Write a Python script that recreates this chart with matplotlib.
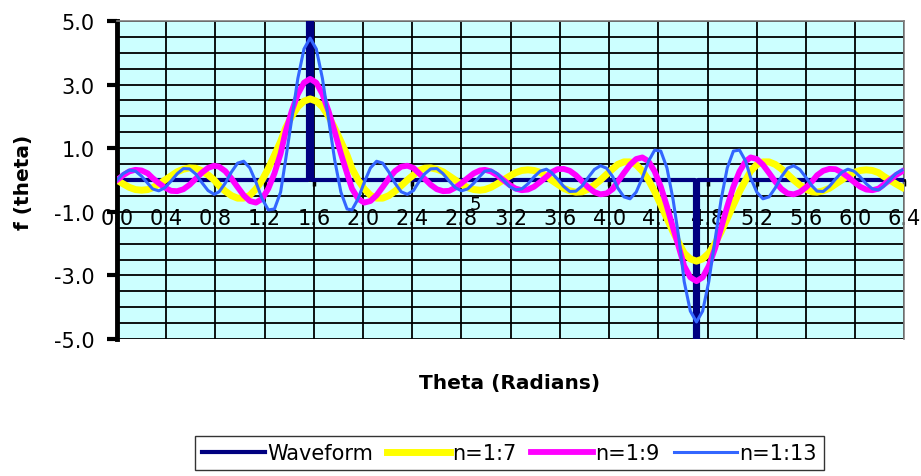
import numpy as np
import matplotlib
matplotlib.use("Agg")
import matplotlib.pyplot as plt
from matplotlib.lines import Line2D

plt.rcParams['font.family'] = ['DejaVu Sans']

# Data (theta in radians)
theta = [
    0.00, 0.05, 0.10, 0.15, 0.20, 0.25, 0.29, 0.34, 0.39, 0.44,
    0.49, 0.54, 0.59, 0.64, 0.69, 0.74, 0.79, 0.83, 0.88, 0.93,
    0.98, 1.03, 1.08, 1.13, 1.18, 1.23, 1.28, 1.33, 1.37, 1.42,
    1.47, 1.52, 1.57, 1.62, 1.67, 1.72, 1.77, 1.82, 1.87, 1.91,
    1.96, 2.01, 2.06, 2.11, 2.16, 2.21, 2.26, 2.31, 2.36, 2.41,
    2.45, 2.50, 2.55, 2.60, 2.65, 2.70, 2.75, 2.80, 2.85, 2.90,
    2.95, 2.99, 3.04, 3.09, 3.14, 3.19, 3.24, 3.29, 3.34, 3.39,
    3.44, 3.49, 3.53, 3.58, 3.63, 3.68, 3.73, 3.78, 3.83, 3.88,
    3.93, 3.98, 4.03, 4.07, 4.12, 4.17, 4.22, 4.27, 4.32, 4.37,
    4.42, 4.47, 4.52, 4.57, 4.61, 4.66, 4.71, 4.76, 4.81, 4.86,
    4.91, 4.96, 5.01, 5.06, 5.11, 5.15, 5.20, 5.25, 5.30, 5.35,
    5.40, 5.45, 5.50, 5.55, 5.60, 5.65, 5.69, 5.74, 5.79, 5.84,
    5.89, 5.94, 5.99, 6.04, 6.09, 6.14, 6.19, 6.23, 6.28, 6.33,
    6.38,
]

n7 = [
    0.00, -0.12, -0.23, -0.30, -0.32, -0.30, -0.24, -0.13, 0.00, 0.13,
    0.26, 0.34, 0.38, 0.37, 0.29, 0.16, 0.00, -0.18, -0.35, -0.49,
    -0.57, -0.57, -0.48, -0.28, 0.00, 0.36, 0.78, 1.21, 1.63, 2.00,
    2.30, 2.48, 2.55,
    2.48, 2.30, 2.00, 1.63, 1.21, 0.78, 0.36, 0.00, -0.28, -0.48,
    -0.57, -0.57, -0.49, -0.35, -0.18, 0.00, 0.16, 0.29, 0.37, 0.38,
    0.34, 0.26, 0.13, 0.00, -0.13, -0.24, -0.30, -0.32, -0.30, -0.23,
    -0.12, 0.00,
    0.12, 0.23, 0.30, 0.32, 0.30, 0.24, 0.13, 0.00, -0.13, -0.26,
    -0.34, -0.38, -0.37, -0.29, -0.16, 0.00, 0.18, 0.35, 0.49, 0.57,
    0.57, 0.48, 0.28, 0.00, -0.36, -0.78, -1.21, -1.63, -2.00, -2.30,
    -2.48, -2.55,
    -2.48, -2.30, -2.00, -1.63, -1.21, -0.78, -0.36, 0.00, 0.28, 0.48,
    0.57, 0.57, 0.49, 0.35, 0.18, 0.00, -0.16, -0.29, -0.37, -0.38,
    -0.34, -0.26, -0.13, 0.00, 0.13, 0.24, 0.30, 0.32, 0.30, 0.23,
    0.12, 0.00,
    -0.12, -0.23,
]

n9 = [
    0.00, 0.15, 0.27, 0.32, 0.30, 0.21, 0.06, -0.10, -0.24, -0.34,
    -0.35, -0.29, -0.15, 0.04, 0.23, 0.38, 0.45, 0.42, 0.28, 0.05,
    -0.22, -0.48, -0.66, -0.71, -0.59, -0.27, 0.21, 0.83, 1.51, 2.16,
    2.70, 3.06, 3.18,
    3.06, 2.70, 2.16, 1.51, 0.83, 0.21, -0.27, -0.59, -0.71, -0.66,
    -0.48, -0.22, 0.05, 0.28, 0.42, 0.45, 0.38, 0.23, 0.04, -0.15,
    -0.29, -0.35, -0.34, -0.24, -0.10, 0.06, 0.21, 0.30, 0.32, 0.27,
    0.15, 0.00,
    -0.15, -0.27, -0.32, -0.30, -0.21, -0.06, 0.10, 0.24, 0.34, 0.35,
    0.29, 0.15, -0.04, -0.23, -0.38, -0.45, -0.42, -0.28, -0.05, 0.22,
    0.48, 0.66, 0.71, 0.59, 0.27, -0.21, -0.83, -1.51, -2.16, -2.70,
    -3.06, -3.18,
    -3.06, -2.70, -2.16, -1.51, -0.83, -0.21, 0.27, 0.59, 0.71, 0.66,
    0.48, 0.22, -0.05, -0.28, -0.42, -0.45, -0.38, -0.23, -0.04, 0.15,
    0.29, 0.35, 0.34, 0.24, 0.10, -0.06, -0.21, -0.30, -0.32, -0.27,
    -0.15, 0.00,
    0.15, 0.27,
]

n13 = [
    0.00, 0.20, 0.31, 0.28, 0.12, -0.10, -0.28, -0.34, -0.24, -0.03,
    0.20, 0.36, 0.35, 0.19, -0.08, -0.33, -0.45, -0.37, -0.10, 0.25,
    0.53, 0.59, 0.38, -0.07, -0.59, -0.94, -0.91, -0.38, 0.62, 1.91,
    3.19, 4.12, 4.46,
    4.12, 3.19, 1.91, 0.62, -0.38, -0.91, -0.94, -0.59, -0.07, 0.38,
    0.59, 0.53, 0.25, -0.10, -0.37, -0.45, -0.33, -0.08, 0.19, 0.35,
    0.36, 0.20, -0.03, -0.24, -0.34, -0.28, -0.10, 0.12, 0.28, 0.31,
    0.20, 0.00,
    -0.20, -0.31, -0.28, -0.12, 0.10, 0.28, 0.34, 0.24, 0.03, -0.20,
    -0.36, -0.35, -0.19, 0.08, 0.33, 0.45, 0.37, 0.10, -0.25, -0.53,
    -0.59, -0.38, 0.07, 0.59, 0.94, 0.91, 0.38, -0.62, -1.91, -3.19,
    -4.12, -4.46,
    -4.12, -3.19, -1.91, -0.62, 0.38, 0.91, 0.94, 0.59, 0.07, -0.38,
    -0.59, -0.53, -0.25, 0.10, 0.37, 0.45, 0.33, 0.08, -0.19, -0.35,
    -0.36, -0.20, 0.03, 0.24, 0.34, 0.28, 0.10, -0.12, -0.28, -0.31,
    -0.20, 0.00,
    0.20, 0.31,
]

# the waveform itself: zero with a narrow pulse up at pi/2 and down at 3pi/2
wave_theta = [0.0, 1.555, 1.555, 1.585, 1.585, 4.695, 4.695, 4.725, 4.725, 6.4]
wave = [0.0, 0.0, 5.0, 5.0, 0.0, 0.0, -5.0, -5.0, 0.0, 0.0]

xticks = [0.0, 0.4, 0.8, 1.2, 1.6, 2.0, 2.4, 2.8, 3.2, 3.6, 4.0, 4.4, 4.8, 5.2, 5.6, 6.0, 6.4]
yticks = [-5.0, -3.0, -1.0, 1.0, 3.0, 5.0]

labels = ['Waveform', 'n=1:7', 'n=1:9', 'n=1:13']
colors = ['#000080', '#ffff00', '#ff00ff', '#3366ff']
widths = [3.0, 5.0, 4.2, 2.2]

fig = plt.figure(figsize=(9.21, 4.77), dpi=100)
ax = fig.add_axes([0.127, 0.287, 0.855, 0.667])
ax.set_facecolor('#ccffff')

ax.plot(wave_theta, wave, color=colors[0], lw=widths[0], zorder=3)
ax.plot(theta, n7, color=colors[1], lw=widths[1], zorder=4)
ax.plot(theta, n9, color=colors[2], lw=widths[2], zorder=5)
ax.plot(theta, n13, color=colors[3], lw=widths[3], zorder=6)

ax.set_xlim(0, 6.4)
ax.set_ylim(-5, 5)

ax.set_xticks(xticks)
ax.set_xticklabels([f'{v:.1f}' for v in xticks])
ax.set_yticks(yticks)
ax.set_yticklabels([f'{v:.1f}' for v in yticks])
ax.set_yticks(np.arange(-5, 5.01, 0.5), minor=True)

ax.set_axisbelow(True)
ax.xaxis.grid(True, which='major', color='black', lw=1.3)
ax.yaxis.grid(True, which='both', color='black', lw=1.3)

ax.spines['left'].set_linewidth(3.5)
ax.spines['left'].set_color('black')
ax.spines['bottom'].set_position(('data', 0))
ax.spines['bottom'].set_linewidth(2)
ax.spines['bottom'].set_color('black')
for s in ['top', 'right']:
    ax.spines[s].set_color('#808080')
    ax.spines[s].set_linewidth(1.2)

ax.tick_params(axis='y', which='major', length=7, width=3, pad=9, labelsize=15)
ax.tick_params(axis='y', which='minor', length=0)
ax.tick_params(axis='x', which='major', length=4, width=2.5, pad=16, labelsize=15)

# stray label in the original chart
ax.text(2.91, -0.76, '5', ha='center', va='center', fontsize=13)

fig.text(0.025, 0.618, 'f (theta)', rotation=90, fontsize=14.5, fontweight='bold',
         ha='center', va='center')
fig.text(0.553, 0.197, 'Theta (Radians)', fontsize=14.5, fontweight='bold',
         ha='center', va='center')

handles = [Line2D([], [], color=c, lw=w) for c, w in zip(colors, widths)]
leg = fig.legend(handles, labels, loc='center', bbox_to_anchor=(0.553, 0.048), ncol=4,
                 frameon=True, fancybox=False, edgecolor='black', fontsize=15,
                 handlelength=3.0, handletextpad=0.1, columnspacing=0.7,
                 borderpad=0.35)
leg.get_frame().set_linewidth(1.0)

fig.savefig('out.png', dpi=100)
